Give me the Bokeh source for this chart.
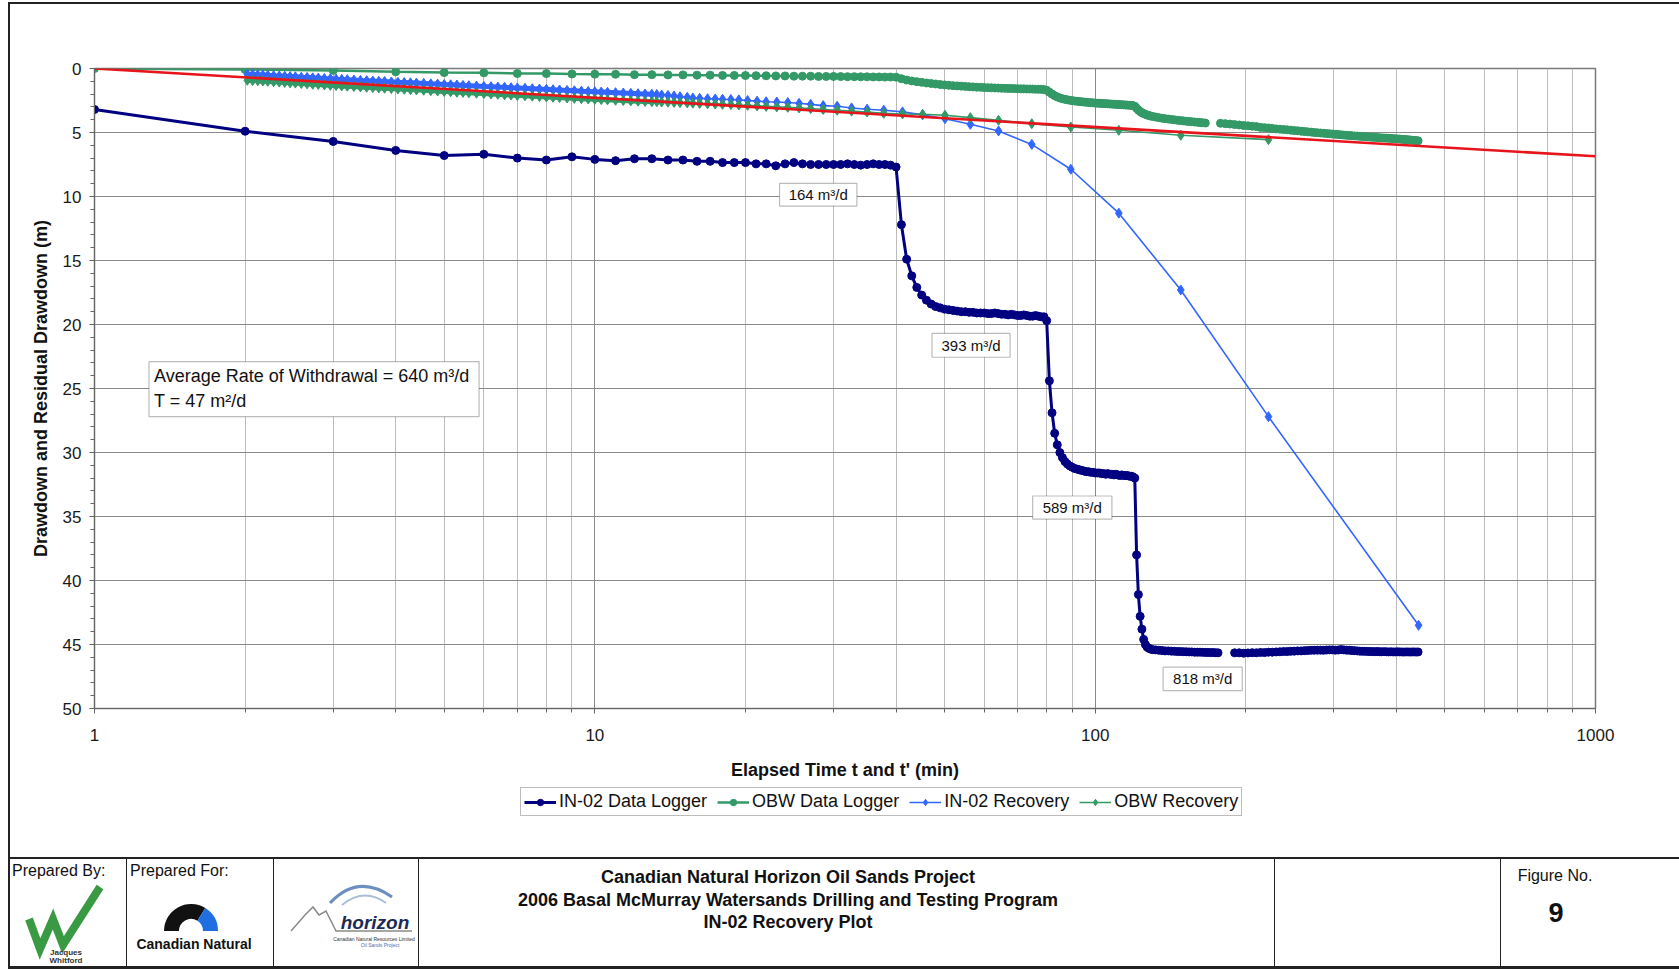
import math
from bokeh.plotting import figure
from bokeh.models import (Range1d, FixedTicker, SingleIntervalTicker, BasicTickFormatter,
                          Legend, LegendItem, Label, BoxAnnotation, Div)
from bokeh.layouts import column, row
from bokeh.embed import file_html
from bokeh.resources import INLINE

FONT = "Liberation Sans"
NAN = float("nan")

# ---------------------------------------------------------------- data
# IN-02 data logger: elapsed time t (min) and drawdown (m)
in02_t_a = list(range(1, 131))
in02_s_a = [3.2, 4.9, 5.7, 6.4, 6.8, 6.7, 7.0, 7.15, 6.9, 7.1,
            7.2, 7.05, 7.05, 7.15, 7.15, 7.25, 7.25, 7.35, 7.35, 7.35,
            7.45, 7.45, 7.6, 7.45, 7.35, 7.45, 7.5, 7.5, 7.5, 7.5,
            7.5, 7.45, 7.5, 7.55, 7.5, 7.45, 7.5, 7.5, 7.55, 7.7,
            12.2, 14.9, 16.2, 17.1, 17.7, 18.1, 18.4, 18.6, 18.7, 18.8,
            18.85, 18.9, 18.95, 19.0, 19.0, 19.05, 19.05, 19.1, 19.1, 19.1,
            19.15, 19.15, 19.1, 19.15, 19.2, 19.2, 19.25, 19.2, 19.25, 19.3,
            19.3, 19.25, 19.3, 19.35, 19.35, 19.3, 19.35, 19.4, 19.4, 19.7,
            24.4, 26.9, 28.5, 29.4, 30.0, 30.4, 30.7, 30.9, 31.05, 31.15,
            31.25, 31.3, 31.35, 31.4, 31.45, 31.5, 31.5, 31.55, 31.55, 31.6,
            31.6, 31.6, 31.65, 31.65, 31.7, 31.65, 31.7, 31.7, 31.75, 31.7,
            31.75, 31.8, 31.75, 31.8, 31.8, 31.8, 31.85, 31.85, 31.9, 32.0,
            38.0, 41.1, 42.8, 43.8, 44.6, 45.0, 45.2, 45.3, 45.35, 45.4]
in02_t_b = list(range(132, 177, 2))
in02_s_b = [45.42, 45.45, 45.47, 45.5, 45.5, 45.52, 45.53, 45.55, 45.55, 45.56,
            45.57, 45.58, 45.58, 45.6, 45.6, 45.6, 45.61, 45.62, 45.62, 45.63,
            45.63, 45.64, 45.65]
in02_t_c = list(range(190, 443, 4))
in02_s_c = [45.65, 45.65, 45.68, 45.66, 45.64, 45.65, 45.62, 45.63,
            45.6, 45.6, 45.58, 45.57, 45.55, 45.55, 45.53, 45.52,
            45.5, 45.5, 45.48, 45.47, 45.45, 45.45, 45.44, 45.44,
            45.45, 45.43, 45.42, 45.42, 45.44, 45.43, 45.4, 45.42,
            45.44, 45.45, 45.47, 45.48, 45.5, 45.52, 45.53, 45.53,
            45.54, 45.55, 45.55, 45.56, 45.55, 45.56, 45.57, 45.56,
            45.57, 45.58, 45.57, 45.58, 45.58, 45.57, 45.58, 45.58,
            45.59, 45.58, 45.58, 45.59, 45.58, 45.58, 45.59, 45.58]

# OBW data logger
obw_t_a = list(range(1, 131))
obw_s_a = [0.0, 0.08, 0.15, 0.26, 0.32, 0.34, 0.39, 0.4, 0.43, 0.44,
           0.45, 0.48, 0.48, 0.5, 0.5, 0.52, 0.52, 0.54, 0.54, 0.55,
           0.56, 0.57, 0.58, 0.58, 0.6, 0.6, 0.6, 0.62, 0.62, 0.62,
           0.63, 0.64, 0.64, 0.65, 0.65, 0.66, 0.66, 0.67, 0.67, 0.68,
           0.8, 0.9, 0.97, 1.03, 1.08, 1.13, 1.17, 1.21, 1.25, 1.28,
           1.31, 1.34, 1.36, 1.38, 1.4, 1.42, 1.44, 1.46, 1.47, 1.49,
           1.5, 1.51, 1.52, 1.53, 1.54, 1.55, 1.56, 1.56, 1.57, 1.58,
           1.59, 1.59, 1.6, 1.6, 1.61, 1.62, 1.62, 1.63, 1.65, 1.7,
           1.85, 2.0, 2.12, 2.22, 2.3, 2.36, 2.41, 2.45, 2.48, 2.51,
           2.54, 2.56, 2.58, 2.6, 2.62, 2.64, 2.65, 2.67, 2.68, 2.7,
           2.71, 2.72, 2.73, 2.74, 2.75, 2.76, 2.77, 2.78, 2.79, 2.8,
           2.81, 2.82, 2.83, 2.84, 2.85, 2.86, 2.87, 2.88, 2.9, 2.95,
           3.1, 3.25, 3.36, 3.45, 3.52, 3.58, 3.63, 3.67, 3.71, 3.74]
obw_t_b = list(range(132, 167, 2))
obw_s_b = [3.79, 3.84, 3.88, 3.92, 3.95, 3.98, 4.01, 4.04, 4.07, 4.09,
           4.12, 4.14, 4.16, 4.18, 4.2, 4.22, 4.24, 4.26]
obw_t_c = list(range(178, 443, 4))
obw_s_c = [4.28, 4.31, 4.34, 4.38, 4.41, 4.45, 4.48, 4.51,
           4.54, 4.6, 4.62, 4.65, 4.68, 4.72, 4.74, 4.77,
           4.79, 4.82, 4.85, 4.87, 4.9, 4.93, 4.95, 4.97,
           5.0, 5.02, 5.04, 5.06, 5.08, 5.1, 5.12, 5.14,
           5.16, 5.18, 5.2, 5.22, 5.23, 5.25, 5.27, 5.28,
           5.3, 5.31, 5.33, 5.34, 5.36, 5.37, 5.38, 5.4,
           5.41, 5.42, 5.43, 5.44, 5.45, 5.46, 5.48, 5.49,
           5.5, 5.51, 5.53, 5.54, 5.55, 5.57, 5.58, 5.6,
           5.61, 5.63, 5.65]

# Recovery: time ratio t/t' and residual drawdown (m)
rec_ratio_early = [443, 222, 148.3, 111.5, 89.4, 74.7, 64.1, 56.3, 50.1, 45.2,
                   41.2, 37.8, 35.0, 32.6, 30.5, 28.6, 27.0, 25.6, 24.3, 23.1,
                   22.0, 21.1, 20.2, 19.4, 18.7, 18.0, 17.4, 16.8, 16.2, 15.7,
                   15.3, 14.8, 14.4, 14.0, 13.6, 13.3]
rec_ratio_late = [13.0, 12.6, 12.2, 11.8, 11.4, 11.0, 10.6, 10.3, 10.0, 9.7,
                  9.4, 9.1, 8.8, 8.5, 8.25, 8.0, 7.75, 7.5, 7.25, 7.0,
                  6.8, 6.6, 6.4, 6.2, 6.0, 5.8, 5.6, 5.45, 5.3, 5.15,
                  5.0, 4.85, 4.7, 4.55, 4.4, 4.28, 4.16, 4.04, 3.92, 3.8,
                  3.7, 3.6, 3.5, 3.4, 3.3, 3.2, 3.12, 3.04, 2.96, 2.88,
                  2.8, 2.73, 2.66, 2.59, 2.52, 2.46, 2.4, 2.34, 2.28, 2.22,
                  2.17, 2.12, 2.07, 2.02]
in02_rec_early = [43.5, 27.2, 17.3, 11.3, 7.87, 5.93, 4.88, 4.36, 3.92, 3.62,
                  3.39, 3.26, 3.18, 3.08, 2.95, 2.9, 2.8, 2.72, 2.66, 2.62,
                  2.6, 2.55, 2.5, 2.45, 2.42, 2.4, 2.38, 2.36, 2.33, 2.3,
                  2.25, 2.2, 2.15, 2.1, 2.07, 2.03]
in02_rec_late = [2.01, 1.99, 1.97, 1.94, 1.92, 1.89, 1.86, 1.84, 1.82, 1.79,
                 1.77, 1.74, 1.71, 1.68, 1.66, 1.63, 1.61, 1.58, 1.55, 1.52,
                 1.5, 1.47, 1.45, 1.42, 1.4, 1.37, 1.34, 1.32, 1.29, 1.27,
                 1.25, 1.22, 1.2, 1.17, 1.14, 1.12, 1.1, 1.08, 1.05, 1.02,
                 1.0, 0.98, 0.95, 0.93, 0.9, 0.87, 0.85, 0.83, 0.8, 0.78,
                 0.75, 0.73, 0.7, 0.68, 0.65, 0.63, 0.61, 0.58, 0.56, 0.53,
                 0.51, 0.49, 0.47, 0.45]
obw_rec_early = [5.56, 5.22, 4.83, 4.57, 4.31, 4.05, 3.84, 3.65, 3.58,
                 3.55, 3.5, 3.4, 3.33, 3.26, 3.2, 3.13, 3.08, 3.03, 3.0,
                 2.96, 2.92, 2.88, 2.85, 2.82, 2.8, 2.78, 2.76, 2.73, 2.71,
                 2.69, 2.67, 2.65, 2.63, 2.62, 2.6]
obw_rec_late = [2.59, 2.57, 2.55, 2.53, 2.5, 2.48, 2.45, 2.43, 2.41, 2.38,
                2.36, 2.33, 2.3, 2.27, 2.25, 2.22, 2.19, 2.16, 2.13, 2.1,
                2.07, 2.05, 2.02, 1.99, 1.96, 1.93, 1.9, 1.87, 1.85, 1.82,
                1.79, 1.76, 1.73, 1.7, 1.67, 1.65, 1.62, 1.6, 1.57, 1.54,
                1.52, 1.49, 1.47, 1.44, 1.41, 1.38, 1.36, 1.33, 1.31, 1.28,
                1.25, 1.23, 1.2, 1.17, 1.14, 1.12, 1.09, 1.06, 1.03, 1.0,
                0.98, 0.96, 0.94, 0.92]

# Straight-line (Jacob) fit
trend_x = [1, 1000]
trend_s = [0.0, 6.86]

# Pumping rate call-outs (box extents in data units)
rate_text = ["164 m³/d", "393 m³/d", "589 m³/d", "818 m³/d"]
rate_left = [23.4, 47.2, 75.0, 136.7]
rate_right = [33.4, 67.6, 108.0, 196.8]
rate_top = [8.97, 20.7, 33.4, 46.77]
rate_bottom = [10.75, 22.56, 35.2, 48.6]

x_ticks = [1, 10, 100, 1000]
x_minor = [2, 3, 4, 5, 6, 7, 8, 9, 20, 30, 40, 50, 60, 70, 80, 90,
           200, 300, 400, 500, 600, 700, 800, 900]

series_names = ["IN-02 Data Logger", "OBW Data Logger", "IN-02 Recovery", "OBW Recovery"]
title_lines = ["Canadian Natural Horizon Oil Sands Project",
               "2006 Basal McMurray Watersands Drilling and Testing Program",
               "IN-02 Recovery Plot"]
figure_no = "9"

NAVY = "#000080"
GREEN = "#339966"
BLUE = "#3366ff"
RED = "#e8141c"
INK = "#1a1a1a"


def joined(*segments):
    xs, ys = [], []
    for i, (t, s, brk) in enumerate(segments):
        if i and brk:
            xs.append(NAN)
            ys.append(NAN)
        xs += list(t)
        ys += list(s)
    return xs, ys


in02_x, in02_y = joined((in02_t_a, in02_s_a, False), (in02_t_b, in02_s_b, False),
                        (in02_t_c, in02_s_c, True))
obw_x, obw_y = joined((obw_t_a, obw_s_a, False), (obw_t_b, obw_s_b, False),
                      (obw_t_c, obw_s_c, True))
in02_rx = rec_ratio_early + rec_ratio_late
in02_ry = in02_rec_early + in02_rec_late
obw_rx = rec_ratio_early[1:] + rec_ratio_late
obw_ry = obw_rec_early + obw_rec_late

# ---------------------------------------------------------------- layout sizes
PAGE_W = 1679
STRIP = 10            # left page-border strip
PW = PAGE_W - STRIP   # plot width
TOP_H = 4             # top page-border strip
P_H = 780
LEG_H = 73
BLOCK_H = 112

# ---------------------------------------------------------------- main chart
p = figure(width=PW, height=P_H, x_axis_type="log",
           x_range=Range1d(1, 1000), y_range=Range1d(50, 0),
           output_backend="svg", toolbar_location=None,
           min_border_left=84, min_border_right=84, min_border_top=64,
           min_border_bottom=76, background_fill_color="white",
           border_fill_color="white", margin=0)

p.outline_line_color = "#7a7a7a"
p.outline_line_width = 1.5

p.xaxis.ticker = FixedTicker(ticks=x_ticks, minor_ticks=x_minor)
p.xaxis.formatter = BasicTickFormatter(use_scientific=False)
p.xaxis.major_label_overrides = {t: str(t) for t in x_ticks}
p.yaxis.ticker = SingleIntervalTicker(interval=5, num_minor_ticks=5)

for ax in (p.xaxis, p.yaxis):
    ax.axis_line_color = "#666666"
    ax.major_tick_line_color = "#666666"
    ax.minor_tick_line_color = "#666666"
    ax.major_tick_in = 0
    ax.minor_tick_in = 0
    ax.major_tick_out = 5
    ax.minor_tick_out = 4
    ax.major_label_text_font = FONT
    ax.major_label_text_font_size = "17px"
    ax.major_label_text_color = INK
    ax.axis_label_text_font = FONT
    ax.axis_label_text_font_size = "18px"
    ax.axis_label_text_font_style = "bold"
    ax.axis_label_text_color = "#111111"

p.xaxis.major_label_standoff = 15
p.xaxis.axis_label_standoff = 16
p.yaxis.major_label_standoff = 8
p.yaxis.axis_label_standoff = 9
p.xaxis.axis_label = "Elapsed Time t and t' (min)"
p.yaxis.axis_label = "Drawdown and Residual Drawdown (m)"

p.ygrid.grid_line_color = "#8a8a8a"
p.xgrid.grid_line_color = "#8a8a8a"
p.xgrid.minor_grid_line_color = "#bcbcbc"
p.ygrid.minor_grid_line_color = None

STY = [dict(color=NAVY, lw=3, marker="circle", size=8),
       dict(color=GREEN, lw=2.5, marker="circle", size=8),
       dict(color=BLUE, lw=1.6, marker="diamond", size=10),
       dict(color=GREEN, lw=1.6, marker="diamond", size=10)]

series_xy = [(in02_x, in02_y), (obw_x, obw_y), (in02_rx, in02_ry), (obw_rx, obw_ry)]
bands = [None, None, in02_rec_late, obw_rec_late]

for (xs, ys), st, band in zip(series_xy, STY, bands):
    if band is not None:
        p.line(rec_ratio_late, band, line_color=st["color"], line_width=5)
    p.line(xs, ys, line_color=st["color"], line_width=st["lw"])
    p.scatter(xs, ys, marker=st["marker"], size=st["size"],
              fill_color=st["color"], line_color=st["color"])

p.line(trend_x, trend_s, line_color=RED, line_width=2.6)

# rate call-outs
for txt, lft, rgt, top, bot in zip(rate_text, rate_left, rate_right, rate_top, rate_bottom):
    p.add_layout(BoxAnnotation(left=lft, right=rgt, top=top, bottom=bot,
                               fill_color="white", fill_alpha=1.0,
                               line_color="#222222", line_width=1.2))
    p.add_layout(Label(x=math.sqrt(lft * rgt), y=(top + bot) / 2, text=txt,
                       text_align="center", text_baseline="middle",
                       text_font=FONT, text_font_size="15px", text_color="#111111"))

# info box
p.add_layout(BoxAnnotation(left=1.285, right=5.87, top=22.9, bottom=27.2,
                           fill_color="white", fill_alpha=1.0,
                           line_color="#222222", line_width=1.2))
p.add_layout(Label(x=1.315, y=24.0, text="Average Rate of Withdrawal = 640 m³/d",
                   text_align="left", text_baseline="middle",
                   text_font=FONT, text_font_size="18px", text_color="#111111"))
p.add_layout(Label(x=1.315, y=26.0, text="T = 47 m²/d",
                   text_align="left", text_baseline="middle",
                   text_font=FONT, text_font_size="18px", text_color="#111111"))

# ---------------------------------------------------------------- legend strip
lf = figure(width=PW, height=LEG_H, x_range=Range1d(0, 1), y_range=Range1d(0, 1),
            output_backend="svg", toolbar_location=None,
            min_border_left=84, min_border_right=84, min_border_top=0, min_border_bottom=0,
            x_axis_location=None, y_axis_location=None, margin=0,
            background_fill_color="white", border_fill_color="white")
lf.grid.visible = False
lf.outline_line_color = None
items = []
for name, st in zip(series_names, STY):
    # legend swatches: one point placed outside this strip's visible range
    lr = lf.line([5, 6], [5, 5], line_color=st["color"], line_width=st["lw"])
    sr = lf.scatter([5], [5], marker=st["marker"], size=st["size"],
                    fill_color=st["color"], line_color=st["color"])
    items.append(LegendItem(label=name, renderers=[lr, sr]))
legend = Legend(items=items, orientation="horizontal", location=(426, 41))
legend.label_text_font = FONT
legend.label_text_font_size = "18px"
legend.label_text_color = "#111111"
legend.glyph_width = 32
legend.glyph_height = 16
legend.label_standoff = 3
legend.spacing = 10
legend.padding = 3
legend.margin = 0
legend.border_line_color = "#7a7a7a"
legend.border_line_width = 1
legend.background_fill_color = "white"
legend.background_fill_alpha = 1.0
lf.add_layout(legend, "center")

# ---------------------------------------------------------------- page border strips
top_div = Div(text="", width=PAGE_W - 8, height=2, margin=(2, 0, 0, 8),
              styles={"background-color": "#222222"})
left_div1 = Div(text="", width=2, height=P_H, margin=(0, 0, 0, 8),
                styles={"background-color": "#222222"})
left_div2 = Div(text="", width=2, height=LEG_H, margin=(0, 0, 0, 8),
                styles={"background-color": "#222222"})

# ---------------------------------------------------------------- title block (HTML)
H = BLOCK_H


def sector(cx, cy, ro, ri, a0, a1):
    r0, r1 = math.radians(a0), math.radians(a1)
    pts = []
    for r, a in ((ro, r0), (ro, r1), (ri, r1), (ri, r0)):
        pts.append((cx + r * math.cos(a), cy - r * math.sin(a)))
    large = 1 if (a1 - a0) > 180 else 0
    return ("M{:.1f},{:.1f} A{r},{r} 0 {l} 0 {:.1f},{:.1f} L{:.1f},{:.1f} "
            "A{ri},{ri} 0 {l} 1 {:.1f},{:.1f} Z").format(
        pts[0][0], pts[0][1], pts[1][0], pts[1][1], pts[2][0], pts[2][1],
        pts[3][0], pts[3][1], r=ro, ri=ri, l=large)


dividers = [126, 273, 418, 1274, 1500]
div_html = "".join(
    f'<div style="position:absolute;left:{x}px;top:0;width:1px;height:{H}px;background:#222"></div>'
    for x in dividers)

svg = f'''
<svg width="{PAGE_W}" height="{H}" style="position:absolute;left:0;top:0" xmlns="http://www.w3.org/2000/svg">
  <polyline points="29,62 40,92 53,62 63,88 100,30" fill="none" stroke="#3a9a44" stroke-width="8" stroke-linejoin="miter"/>
  <text x="66" y="98" font-family="{FONT}" font-size="8" font-weight="bold" fill="#333" text-anchor="middle">Jacques</text>
  <text x="66" y="106" font-family="{FONT}" font-size="8" font-weight="bold" fill="#333" text-anchor="middle">Whitford</text>
  <path d="{sector(191, 74, 27, 12, 58, 180)}" fill="#111"/>
  <path d="{sector(191, 74, 27, 12, 0, 58)}" fill="#1f6fe0"/>
  <text x="194" y="92" font-family="{FONT}" font-size="14" font-weight="bold" fill="#111" text-anchor="middle">Canadian Natural</text>
  <path d="M330,46 Q358,16 392,40" fill="none" stroke="#6d8fc0" stroke-width="3"/>
  <path d="M342,48 Q364,30 386,46" fill="none" stroke="#a9bddb" stroke-width="2"/>
  <polyline points="291,74 305,58 313,50 319,58 326,54 336,74 412,74" fill="none" stroke="#8a8a8a" stroke-width="1.5"/>
  <text x="375" y="72" font-family="{FONT}" font-size="19" font-weight="bold" font-style="italic" fill="#1b2a55" text-anchor="middle">horizon</text>
  <text x="374" y="84" font-family="{FONT}" font-size="5" fill="#333" text-anchor="middle">Canadian Natural Resources Limited</text>
  <text x="380" y="90" font-family="{FONT}" font-size="5" fill="#4a6fb0" text-anchor="middle">Oil Sands Project</text>
</svg>'''

title_html = "".join(
    f'<div style="position:absolute;left:388px;width:800px;top:{top}px;text-align:center;'
    f'font-size:18px;font-weight:bold;line-height:22px;white-space:nowrap">{t}</div>'
    for t, top in zip(title_lines, [9, 31.5, 54]))

html = f'''
<div style="position:relative;width:{PAGE_W}px;height:{H}px;margin:0;padding:0;overflow:hidden;
            font-family:'{FONT}',Arial,sans-serif;color:#111;background:#fff">
  <div style="position:absolute;left:8px;top:0;width:{PAGE_W - 8}px;height:2px;background:#222"></div>
  <div style="position:absolute;left:8px;top:{H - 3}px;width:{PAGE_W - 8}px;height:3px;background:#222"></div>
  <div style="position:absolute;left:8px;top:0;width:2px;height:{H}px;background:#222"></div>
  {div_html}
  {svg}
  <div style="position:absolute;left:12px;top:4px;font-size:16px;line-height:19px;white-space:nowrap">Prepared By:</div>
  <div style="position:absolute;left:130px;top:4px;font-size:16px;line-height:19px;white-space:nowrap">Prepared For:</div>
  {title_html}
  <div style="position:absolute;left:1505px;width:100px;top:9px;text-align:center;font-size:16px;line-height:19px">Figure No.</div>
  <div style="position:absolute;left:1506px;width:100px;top:40px;text-align:center;font-size:27px;font-weight:bold;line-height:32px">{figure_no}</div>
</div>'''

block = Div(text=html, width=PAGE_W, height=H, margin=0)

layout = column(top_div,
                row(left_div1, p, spacing=0),
                row(left_div2, lf, spacing=0),
                block, spacing=0)
open("out.html", "w").write(file_html(layout, INLINE))
